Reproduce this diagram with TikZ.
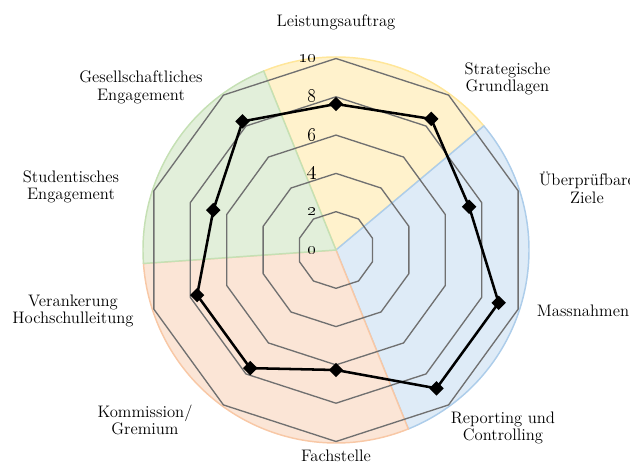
\documentclass[tikz,border=0pt]{standalone}
\usetikzlibrary{shapes.geometric}
\definecolor{secyellow}{HTML}{FFF2CC}
\definecolor{secyellowline}{HTML}{FFE699}
\definecolor{secblue}{HTML}{DEEBF7}
\definecolor{secblueline}{HTML}{ADCDEA}
\definecolor{secorange}{HTML}{FBE5D6}
\definecolor{secorangeline}{HTML}{F8C8A6}
\definecolor{secgreen}{HTML}{E2EFDA}
\definecolor{secgreenline}{HTML}{C5E0B4}
\definecolor{ringgray}{HTML}{707070}
\begin{document}
\begin{tikzpicture}[x=0.75pt,y=0.75pt,
  ring/.style={draw=ringgray, line width=1pt, line join=round},
  valpt/.style={diamond, fill=black, inner sep=0pt, minimum size=11pt},
  valline/.style={black, line width=1.9pt, line join=round},
  cat/.style={align=center, font=\fontsize{12.5}{13.2}\selectfont},
  tick/.style={anchor=east, inner sep=0pt, font=\fontsize{13.5}{14}\selectfont}]
\useasboundingbox (-336,-214) rectangle (294,250);
% coloured sectors
\filldraw[fill=secyellow, draw=secyellowline, line width=1.1pt] (0,0) -- (40:193) arc[start angle=40, end angle=112, radius=193] -- cycle;
\filldraw[fill=secblue, draw=secblueline, line width=1.1pt] (0,0) -- (-68:193) arc[start angle=-68, end angle=40, radius=193] -- cycle;
\filldraw[fill=secorange, draw=secorangeline, line width=1.1pt] (0,0) -- (184:193) arc[start angle=184, end angle=292, radius=193] -- cycle;
\filldraw[fill=secgreen, draw=secgreenline, line width=1.1pt] (0,0) -- (112:193) arc[start angle=112, end angle=184, radius=193] -- cycle;
% rings
\draw[ring] (90:38.3) -- (54:38.3) -- (18:38.3) -- (-18:38.3) -- (-54:38.3) -- (-90:38.3) -- (-126:38.3) -- (-162:38.3) -- (162:38.3) -- (126:38.3) -- cycle;
\draw[ring] (90:76.6) -- (54:76.6) -- (18:76.6) -- (-18:76.6) -- (-54:76.6) -- (-90:76.6) -- (-126:76.6) -- (-162:76.6) -- (162:76.6) -- (126:76.6) -- cycle;
\draw[ring] (90:114.9) -- (54:114.9) -- (18:114.9) -- (-18:114.9) -- (-54:114.9) -- (-90:114.9) -- (-126:114.9) -- (-162:114.9) -- (162:114.9) -- (126:114.9) -- cycle;
\draw[ring] (90:153.2) -- (54:153.2) -- (18:153.2) -- (-18:153.2) -- (-54:153.2) -- (-90:153.2) -- (-126:153.2) -- (-162:153.2) -- (162:153.2) -- (126:153.2) -- cycle;
\draw[ring] (90:191.5) -- (54:191.5) -- (18:191.5) -- (-18:191.5) -- (-54:191.5) -- (-90:191.5) -- (-126:191.5) -- (-162:191.5) -- (162:191.5) -- (126:191.5) -- cycle;
% tick labels
\node[tick] (tk0) at (-19,0) {\oldstylenums{0}};
\node[tick] (tk2) at (-19,38.3) {\oldstylenums{2}};
\node[tick] (tk4) at (-19,76.6) {\oldstylenums{4}};
\node[tick] (tk6) at (-19,114.9) {\oldstylenums{6}};
\node[tick] (tk8) at (-19,153.2) {\oldstylenums{8}};
\node[tick] (tk10) at (-19,191.5) {\oldstylenums{10}};
% values
\node[valpt] (val0) at (90:146){};
\node[valpt] (val1) at (54:162){};
\node[valpt] (val2) at (18:140){};
\node[valpt] (val3) at (-18:171){};
\node[valpt] (val4) at (-54:171){};
\node[valpt] (val5) at (-90:120){};
\node[valpt] (val6) at (-126:146){};
\node[valpt] (val7) at (-162:146){};
\node[valpt] (val8) at (162:129){};
\node[valpt] (val9) at (126:159){};
\draw[valline] (val0.center) -- (val1.center) -- (val2.center) -- (val3.center) -- (val4.center) -- (val5.center) -- (val6.center) -- (val7.center) -- (val8.center) -- (val9.center) -- cycle;
% category labels
\node[cat] (cat0) at (0,228) {Leistungsauftrag};
\node[cat] (cat1) at (171.5,171) {Strategische\\Grundlagen};
\node[cat] (cat2) at (251,62) {Überprüfbare\\Ziele};
\node[cat] (cat3) at (247,-61) {Massnahmen};
\node[cat] (cat4) at (167,-178) {Reporting und\\Controlling};
\node[cat] (cat5) at (0,-206) {Fachstelle};
\node[cat] (cat6) at (-191,-170) {Kommission/\\Gremium};
\node[cat] (cat7) at (-263,-61) {Verankerung\\Hochschulleitung};
\node[cat] (cat8) at (-265,63) {Studentisches\\Engagement};
\node[cat] (cat9) at (-195,162.5) {Gesellschaftliches\\Engagement};
\end{tikzpicture}
\end{document}
